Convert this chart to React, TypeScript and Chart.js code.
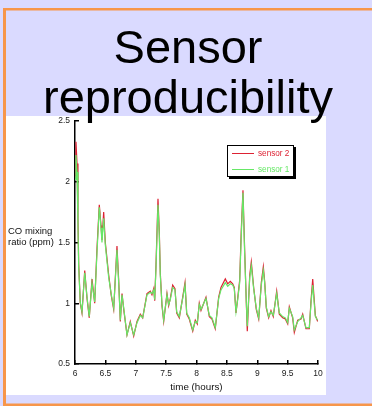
import React, { useEffect, useRef } from "react";
import { Chart, registerables } from "chart.js";

Chart.register(...registerables);

const TITLE_LINES = ["Sensor", "reproducibility"];
const X_TITLE = "time (hours)";
const Y_TITLE_LINES = ["CO mixing", "ratio (ppm)"];
const SERIES_NAMES = ["sensor 2", "sensor 1"];

const times = [
  6.000, 6.016, 6.033, 6.049, 6.061, 6.087, 6.115, 6.160, 6.198, 6.235,
  6.280, 6.324, 6.362, 6.400, 6.428, 6.444, 6.472, 6.499, 6.555, 6.598,
  6.637, 6.691, 6.719, 6.746, 6.774, 6.802, 6.856, 6.910, 6.966, 7.021,
  7.075, 7.114, 7.185, 7.240, 7.267, 7.296, 7.312, 7.333, 7.366, 7.388,
  7.404, 7.432, 7.460, 7.514, 7.542, 7.569, 7.608, 7.646, 7.674, 7.717,
  7.773, 7.811, 7.839, 7.881, 7.938, 7.980, 8.013, 8.046, 8.074, 8.156,
  8.211, 8.255, 8.309, 8.365, 8.403, 8.474, 8.514, 8.556, 8.596, 8.622,
  8.650, 8.678, 8.711, 8.737, 8.765, 8.792, 8.820, 8.836, 8.876, 8.902,
  8.941, 8.984, 9.024, 9.067, 9.100, 9.122, 9.149, 9.188, 9.226, 9.264,
  9.320, 9.363, 9.419, 9.462, 9.501, 9.528, 9.583, 9.610, 9.666, 9.720,
  9.748, 9.802, 9.857, 9.885, 9.913, 9.956, 9.995,
];

const sensor1 = [
  2.02, 2.22, 2.08, 1.62, 1.29, 1.01, 0.93, 1.25, 1.05, 0.89,
  1.17, 1.01, 1.42, 1.79, 1.62, 1.50, 1.70, 1.48, 1.21, 1.07,
  0.96, 1.44, 1.17, 0.86, 1.07, 0.96, 0.74, 0.84, 0.74, 0.84,
  0.90, 0.88, 1.07, 1.09, 1.08, 1.11, 1.03, 1.29, 1.81, 1.56,
  1.23, 0.99, 0.86, 1.07, 0.99, 1.03, 1.13, 1.11, 0.93, 0.89,
  1.04, 1.15, 0.92, 0.88, 0.78, 0.85, 0.84, 0.99, 0.95, 1.04,
  0.90, 0.88, 0.80, 1.04, 1.11, 1.17, 1.14, 1.16, 1.15, 1.12,
  0.93, 1.03, 1.17, 1.56, 1.91, 1.42, 1.01, 0.81, 1.21, 1.31,
  1.12, 0.96, 0.88, 1.15, 1.27, 1.17, 0.97, 0.89, 0.93, 0.90,
  1.08, 0.92, 0.89, 0.88, 0.84, 0.96, 0.89, 0.78, 0.85, 0.88,
  0.90, 0.80, 0.80, 1.00, 1.15, 0.89, 0.86,
];

const sensor2 = [
  2.05, 2.33, 2.15, 1.70, 1.32, 1.00, 0.92, 1.27, 1.04, 0.88,
  1.20, 1.00, 1.45, 1.81, 1.64, 1.52, 1.75, 1.50, 1.23, 1.06,
  0.95, 1.47, 1.19, 0.85, 1.08, 0.95, 0.74, 0.85, 0.73, 0.85,
  0.91, 0.88, 1.08, 1.10, 1.07, 1.12, 1.02, 1.31, 1.86, 1.58,
  1.25, 0.98, 0.85, 1.08, 0.98, 1.04, 1.15, 1.12, 0.92, 0.88,
  1.05, 1.17, 0.91, 0.87, 0.77, 0.86, 0.83, 1.00, 0.94, 1.05,
  0.89, 0.87, 0.79, 1.05, 1.13, 1.20, 1.16, 1.18, 1.16, 1.13,
  0.92, 1.04, 1.19, 1.60, 1.93, 1.45, 1.00, 0.77, 1.23, 1.34,
  1.13, 0.95, 0.87, 1.17, 1.30, 1.18, 0.96, 0.88, 0.94, 0.89,
  1.10, 0.91, 0.88, 0.87, 0.83, 0.97, 0.88, 0.76, 0.86, 0.87,
  0.91, 0.79, 0.79, 1.02, 1.20, 0.90, 0.85,
];

const X_MIN = 6;
const X_MAX = 10;
const X_STEP = 0.5;
const Y_MIN = 0.5;
const Y_MAX = 2.5;
const Y_STEP = 0.5;

const W = 372;
const H = 406;
const LAVENDER = "#dadaff";
const ORANGE = "#f7964a";
const RED = "#dd2233";
const GREEN = "#66e866";
const FONT = '"Liberation Sans", Arial, sans-serif';

const plainLabel = (v: any) => String(Math.round(Number(v) * 100) / 100);

const slidePlugin = {
  id: "slide",
  beforeDraw(chart: any) {
    const ctx = chart.ctx;
    ctx.save();
    ctx.fillStyle = LAVENDER;
    ctx.fillRect(0, 0, W, H);
    ctx.fillStyle = "#ffffff";
    ctx.fillRect(6, 116, 320, 279);
    ctx.fillStyle = ORANGE;
    ctx.fillRect(3, 8, W - 3, 2.5);
    ctx.fillRect(3, 8, 3, H - 8);
    ctx.fillRect(3, 403.5, W - 3, 2.5);
    ctx.restore();
  },
  afterDraw(chart: any) {
    const ctx = chart.ctx;
    const y = chart.scales.y;
    ctx.save();
    // y-axis title (horizontal)
    ctx.font = `9.5px ${FONT}`;
    ctx.fillStyle = "#111";
    ctx.textAlign = "left";
    ctx.textBaseline = "middle";
    const yb = y.getPixelForValue(1.5);
    ctx.fillText(Y_TITLE_LINES[0], 8, yb - 11);
    ctx.fillText(Y_TITLE_LINES[1], 8, yb);

    // legend
    const lx = 227, ly = 145, lw = 67, lh = 32;
    ctx.fillStyle = "#000";
    ctx.fillRect(lx + 2, ly + 2, lw, lh);
    ctx.fillStyle = "#fff";
    ctx.fillRect(lx, ly, lw, lh);
    ctx.strokeStyle = "#000";
    ctx.lineWidth = 1;
    ctx.strokeRect(lx + 0.5, ly + 0.5, lw - 1, lh - 1);
    const entries = [
      { name: SERIES_NAMES[0], color: RED, yy: ly + 8.5 },
      { name: SERIES_NAMES[1], color: GREEN, yy: ly + 24.5 },
    ];
    ctx.font = `8.2px ${FONT}`;
    for (const e of entries) {
      ctx.strokeStyle = e.color;
      ctx.lineWidth = 1;
      ctx.beginPath();
      ctx.moveTo(lx + 5, e.yy);
      ctx.lineTo(lx + 27, e.yy);
      ctx.stroke();
      ctx.fillStyle = e.color;
      ctx.fillText(e.name, lx + 31, e.yy);
    }

    // slide title
    ctx.font = `47px ${FONT}`;
    ctx.fillStyle = "#000";
    ctx.textAlign = "center";
    ctx.textBaseline = "alphabetic";
    ctx.fillText(TITLE_LINES[0], 188, 63);
    ctx.fillText(TITLE_LINES[1], 188, 113);
    ctx.restore();
  },
};

export default function App() {
  const ref = useRef<HTMLCanvasElement | null>(null);
  useEffect(() => {
    if (!ref.current) return;
    const tickFont = { size: 8.5, family: FONT };
    const chart = new Chart(ref.current, {
      type: "line",
      data: {
        datasets: [
          {
            label: SERIES_NAMES[1],
            data: times.map((t, i) => ({ x: t, y: sensor1[i] })),
            borderColor: GREEN,
            borderWidth: 1.2,
            pointRadius: 0,
            tension: 0,
            order: 0,
          },
          {
            label: SERIES_NAMES[0],
            data: times.map((t, i) => ({ x: t, y: sensor2[i] })),
            borderColor: RED,
            borderWidth: 1.2,
            pointRadius: 0,
            tension: 0,
            order: 1,
          },
        ],
      },
      options: {
        responsive: false,
        animation: false,
        events: [],
        layout: { padding: { left: 35, right: 54, top: 121, bottom: 12 } },
        plugins: {
          legend: { display: false },
          tooltip: { enabled: false },
          title: { display: false },
        },
        scales: {
          x: {
            type: "linear",
            min: X_MIN,
            max: X_MAX,
            ticks: { stepSize: X_STEP, font: tickFont, color: "#222", padding: 9, maxRotation: 0, callback: plainLabel },
            grid: { drawOnChartArea: false, drawTicks: true, tickLength: -4, color: "#000", lineWidth: 1.5 },
            border: { color: "#000", width: 1.5 },
            title: { display: true, text: X_TITLE, font: { size: 9.8, family: FONT }, color: "#111", padding: { top: 0, bottom: 1 } },
            afterFit: (s: any) => { s.height = 30; },
          },
          y: {
            type: "linear",
            min: Y_MIN,
            max: Y_MAX,
            ticks: { stepSize: Y_STEP, font: tickFont, color: "#222", padding: 9, callback: plainLabel },
            grid: { drawOnChartArea: false, drawTicks: true, tickLength: -4, color: "#000", lineWidth: 1.5 },
            border: { color: "#000", width: 1.5 },
            afterFit: (s: any) => { s.width = 40; },
          },
        },
      },
      plugins: [slidePlugin],
    } as any);
    return () => chart.destroy();
  }, []);
  return (
    <div style={{ position: "absolute", left: 0, top: 0, width: W, height: H }}>
      <canvas ref={ref} width={W} height={H} style={{ display: "block", width: W, height: H }} />
    </div>
  );
}
